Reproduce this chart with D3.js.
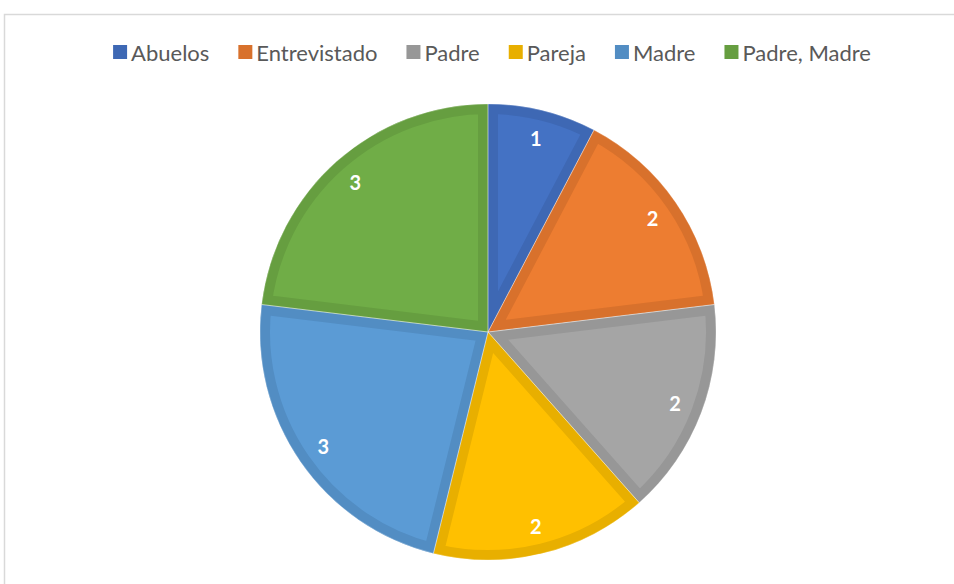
<!DOCTYPE html>
<html>
<head>
<meta charset="utf-8">
<script src="https://cdn.jsdelivr.net/npm/d3@7"></script>
<style>
  html, body { margin: 0; padding: 0; background: #fff; }
  svg { display: block; }
</style>
</head>
<body>
<svg width="954" height="584"></svg>
<script>
// data
const categories = ["Abuelos", "Entrevistado", "Padre", "Pareja", "Madre", "Padre, Madre"]
const values = [1, 2, 2, 2, 3, 3]
const fills = ["#4472C4", "#ED7D31", "#A5A5A5", "#FFC000", "#5B9BD5", "#70AD47"]
const edges = ["#3E68B4", "#D8712C", "#979797", "#E8AF00", "#528DC3", "#669E40"]

const svg = d3.select("svg")
const cx = 488, cy = 332, radius = 228

// chart frame
svg.append("rect")
    .attr("x", 4.5).attr("y", 14.5)
    .attr("width", 1000).attr("height", 1000)
    .attr("fill", "none")
    .attr("stroke", "#d9d9d9")
    .attr("stroke-width", 1.5)

const data = categories.map((c, i) => ({ name: c, value: values[i], i: i }))

const pie = d3.pie().value(d => d.value).sort(null)
const arc = d3.arc().innerRadius(0).outerRadius(radius)
const labelArc = d3.arc().innerRadius(200).outerRadius(200)

const arcs = pie(data)
const g = svg.append("g").attr("transform", `translate(${cx},${cy})`)
const defs = svg.append("defs")

arcs.forEach((a, i) => {
    defs.append("clipPath").attr("id", "clip" + i)
        .append("path").attr("d", arc(a))
})

// slices, the outline only shows inside the slice
g.selectAll("path.slice")
    .data(arcs)
    .enter()
    .append("path")
    .attr("class", "slice")
    .attr("d", arc)
    .attr("fill", d => fills[d.data.i])
    .attr("stroke", d => edges[d.data.i])
    .attr("stroke-width", 20)
    .attr("stroke-linejoin", "miter")
    .attr("clip-path", (d, i) => "url(#clip" + i + ")")

// thin white seams between slices
g.selectAll("path.seam")
    .data(arcs)
    .enter()
    .append("path")
    .attr("class", "seam")
    .attr("d", arc)
    .attr("fill", "none")
    .attr("stroke", "#fff")
    .attr("stroke-opacity", 0.5)
    .attr("stroke-width", 0.6)

g.selectAll("text.lbl")
    .data(arcs)
    .enter()
    .append("text")
    .attr("class", "lbl")
    .attr("transform", d => `translate(${labelArc.centroid(d)})`)
    .attr("text-anchor", "middle")
    .attr("dy", "0.4em")
    .attr("font-family", "Lato, 'Open Sans', sans-serif")
    .attr("font-weight", "bold")
    .attr("font-size", 20)
    .attr("fill", "#fff")
    .text(d => d.data.value)

// legend, centred on the top
const legend = svg.append("g").attr("class", "legend")
const items = legend.selectAll("g")
    .data(data)
    .enter()
    .append("g")

items.append("rect")
    .attr("width", 14).attr("height", 14)
    .attr("y", 45)
    .attr("fill", d => edges[d.i])

items.append("text")
    .attr("x", 18)
    .attr("y", 53)
    .attr("dy", "0.35em")
    .attr("font-family", "Lato, 'Open Sans', sans-serif")
    .attr("font-size", 22)
    .attr("fill", "#595959")
    .text(d => d.name)

let widths = []
items.each(function () {
    widths.push(18 + d3.select(this).select("text").node().getComputedTextLength())
})
const gap = 29
const total = d3.sum(widths) + gap * (widths.length - 1)
let xpos = 492 - total / 2
items.each(function (d, i) {
    d3.select(this).attr("transform", `translate(${xpos},0)`)
    xpos += widths[i] + gap
})
</script>
</body>
</html>
